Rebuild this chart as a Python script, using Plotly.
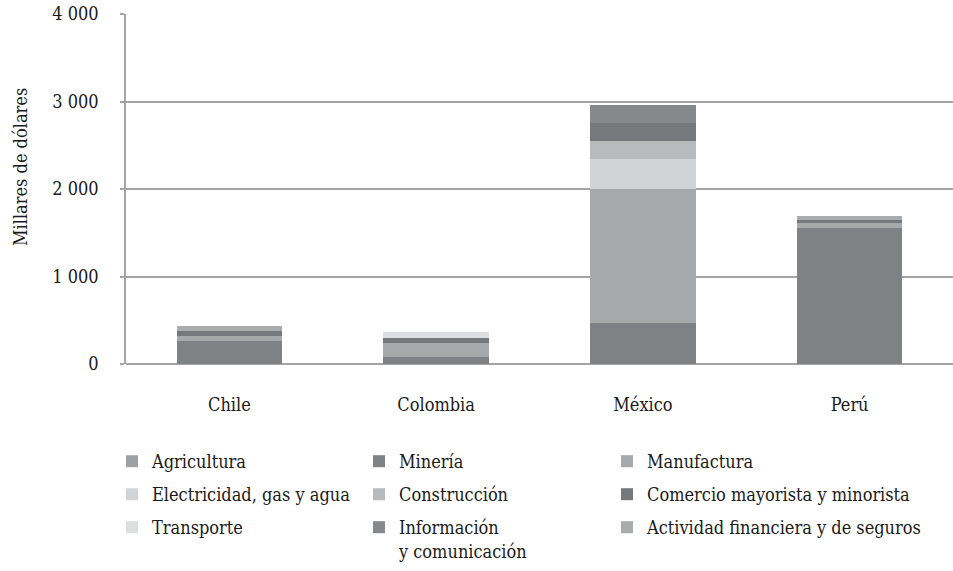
import plotly.graph_objects as go

# Countries on the category axis
paises = ["Chile", "Colombia", "México", "Perú"]

# Stacked values by sector (miles de dólares), bottom to top
agricultura = [0, 0, 0, 0]
mineria = [263, 80, 470, 1560]
manufactura = [57, 160, 1530, 50]
electricidad = [0, 0, 343, 0]
construccion = [0, 0, 206, 0]
comercio = [57, 57, 210, 40]
transporte = [0, 69, 0, 0]
informacion = [0, 0, 202, 0]
financiera = [57, 0, 0, 40]

y_ticks = [0, 1000, 2000, 3000, 4000]
y_tick_text = ["0", "1 000", "2 000", "3 000", "4 000"]

FONT = "DejaVu Serif Condensed"
FSIZE = 18
TXT = "#1a1a1a"
GRID = "#a4a4a4"

series = [
    ("Agricultura", agricultura, "#9fa0a3"),
    ("Minería", mineria, "#808184"),
    ("Manufactura", manufactura, "#a7a8aa"),
    ("Electricidad, gas y agua", electricidad, "#d2d3d5"),
    ("Construcción", construccion, "#b9babc"),
    ("Comercio mayorista y minorista", comercio, "#77787b"),
    ("Transporte", transporte, "#dddedf"),
    ("Información<br>y comunicación", informacion, "#87888b"),
    ("Actividad financiera y de seguros", financiera, "#aaabad"),
]

# Legend grid: three columns, three rows (pixel positions in the page)
col_left = [112, 359, 607]
row_top = [443, 476, 509]

fig = go.Figure()
legends = {}
for i, (name, vals, color) in enumerate(series):
    key = "legend" if i == 0 else f"legend{i + 1}"
    fig.add_trace(go.Bar(
        x=paises, y=vals, name=name,
        marker=dict(color=color, line=dict(width=0)),
        legend=key, showlegend=True,
    ))
    legends[key] = dict(
        orientation="h",
        xref="container", yref="container",
        xanchor="left", yanchor="top",
        x=col_left[i % 3] / 953, y=1 - row_top[i // 3] / 571,
        font=dict(family=FONT, size=FSIZE, color=TXT),
        valign="top", bgcolor="rgba(0,0,0,0)",
    )

fig.update_layout(
    width=953, height=571,
    margin=dict(l=126, r=0, t=14, b=207),
    paper_bgcolor="white", plot_bgcolor="white",
    barmode="stack", bargap=0.49,
    showlegend=True,
    font=dict(family=FONT, size=FSIZE, color=TXT),
    xaxis=dict(
        range=[-0.5, 3.5], showgrid=False, showline=False,
        ticks="", ticklabelstandoff=28, automargin=False,
        tickfont=dict(family=FONT, size=FSIZE, color=TXT),
    ),
    yaxis=dict(
        range=[0, 4000], tickvals=y_ticks, ticktext=y_tick_text,
        showgrid=True, gridcolor=GRID, gridwidth=1.5,
        showline=True, linecolor=GRID, linewidth=1.5,
        ticks="outside", ticklen=4, tickcolor=GRID, tickwidth=1.5,
        ticklabelstandoff=18, automargin=False,
        zeroline=True, zerolinecolor=GRID, zerolinewidth=1.5,
        tickfont=dict(family=FONT, size=FSIZE, color=TXT),
    ),
    annotations=[dict(
        text="Millares de dólares", textangle=-90,
        xref="paper", yref="paper", x=(20 - 126) / 827, y=(364 - 167) / 350,
        xanchor="center", yanchor="middle", showarrow=False,
        font=dict(family=FONT, size=FSIZE, color=TXT),
    )],
    **legends,
)

fig.write_html("out.html")
